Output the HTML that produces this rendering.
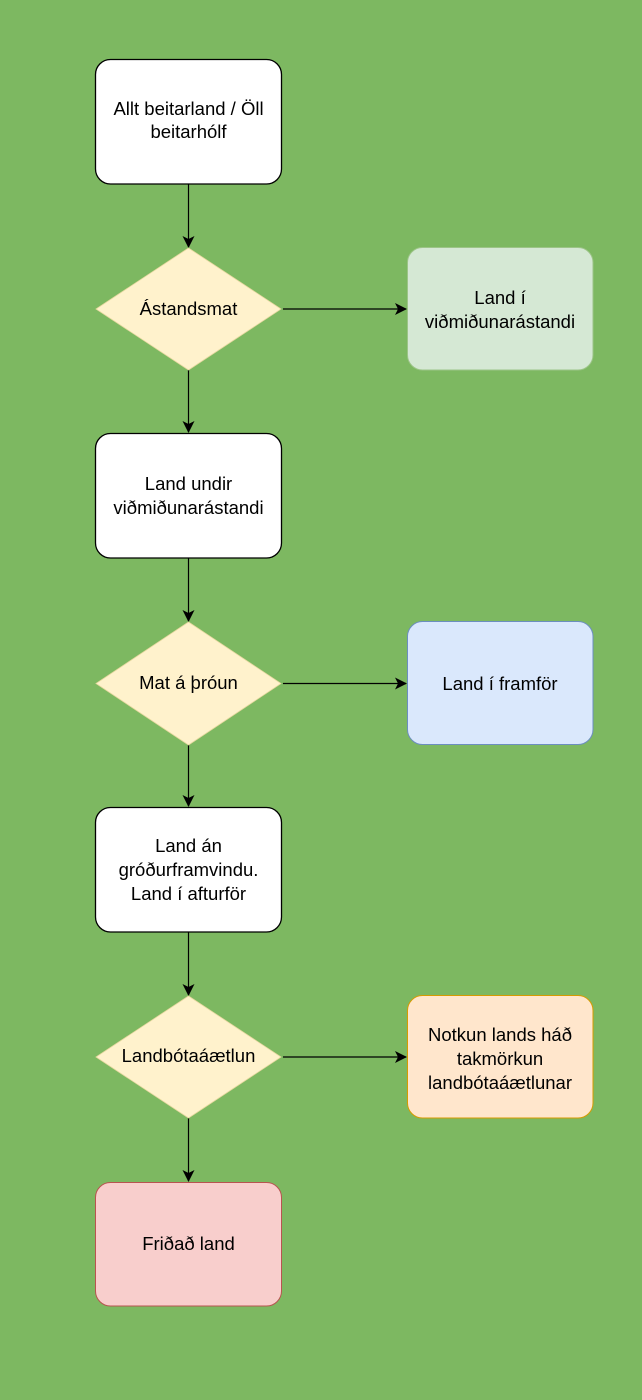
<!DOCTYPE html>
<html>
<head>
<meta charset="utf-8">
<style>
html,body{margin:0;padding:0;background:#7db861;}
svg{display:block;}
text{font-family:"Liberation Sans",Arial,sans-serif;font-size:18.5px;fill:#000;}
</style>
</head>
<body>
<svg width="642" height="1400" viewBox="0 0 642 1400" xmlns="http://www.w3.org/2000/svg">
<defs>
<marker id="ah" markerWidth="12" markerHeight="12" refX="11" refY="6" orient="auto" markerUnits="userSpaceOnUse">
<path d="M0,0 L12,6 L0,12 L3,6 Z" fill="#000"/>
</marker>
</defs>
<rect x="0" y="0" width="642" height="1400" fill="#7db861"/>

<!-- vertical connectors -->
<g stroke="#000" stroke-width="1.2" fill="none">
<line x1="188.5" y1="184" x2="188.5" y2="247" marker-end="url(#ah)"/>
<line x1="188.5" y1="370" x2="188.5" y2="432" marker-end="url(#ah)"/>
<line x1="188.5" y1="558" x2="188.5" y2="621" marker-end="url(#ah)"/>
<line x1="188.5" y1="745" x2="188.5" y2="806" marker-end="url(#ah)"/>
<line x1="188.5" y1="932" x2="188.5" y2="995" marker-end="url(#ah)"/>
<line x1="188.5" y1="1118" x2="188.5" y2="1181" marker-end="url(#ah)"/>
<!-- horizontal connectors -->
<line x1="283" y1="309" x2="406" y2="309" marker-end="url(#ah)"/>
<line x1="283" y1="683.5" x2="406" y2="683.5" marker-end="url(#ah)"/>
<line x1="283" y1="1057" x2="406" y2="1057" marker-end="url(#ah)"/>
</g>

<!-- main column boxes -->
<rect x="95.5" y="59.5" width="186" height="124.5" rx="15" fill="#fff" stroke="#000" stroke-width="1.3"/>
<text text-anchor="middle"><tspan x="188.5" y="115">Allt beitarland / Öll</tspan><tspan x="188.5" y="138">beitarhólf</tspan></text>

<polygon points="188.5,248 281,309 188.5,370 96,309" fill="#fff2cc" stroke="#e8d9a0" stroke-width="0.8"/>
<text x="188.5" y="315" text-anchor="middle">Ástandsmat</text>

<rect x="95.5" y="433.5" width="186" height="124.5" rx="15" fill="#fff" stroke="#000" stroke-width="1.3"/>
<text text-anchor="middle"><tspan x="188.5" y="490">Land undir</tspan><tspan x="188.5" y="514">viðmiðunarástandi</tspan></text>

<polygon points="188.5,622 281,683.5 188.5,745 96,683.5" fill="#fff2cc" stroke="#e8d9a0" stroke-width="0.8"/>
<text x="188.5" y="689" text-anchor="middle">Mat á þróun</text>

<rect x="95.5" y="807.5" width="186" height="124.5" rx="15" fill="#fff" stroke="#000" stroke-width="1.3"/>
<text text-anchor="middle"><tspan x="188.5" y="852">Land án</tspan><tspan x="188.5" y="876">gróðurframvindu.</tspan><tspan x="188.5" y="900">Land í afturför</tspan></text>

<polygon points="188.5,996 281,1057 188.5,1118 96,1057" fill="#fff2cc" stroke="#e8d9a0" stroke-width="0.8"/>
<text x="188.5" y="1062" text-anchor="middle">Landbótaáætlun</text>

<rect x="95.5" y="1182.5" width="186" height="123.5" rx="15" fill="#f8cecc" stroke="#b85450" stroke-width="1"/>
<text x="188.5" y="1250" text-anchor="middle">Friðað land</text>

<!-- right column boxes -->
<rect x="407.5" y="247.5" width="185.5" height="122.5" rx="15" fill="#d5e8d4" stroke="#9cc487" stroke-width="1"/>
<text text-anchor="middle"><tspan x="500" y="304">Land í</tspan><tspan x="500" y="328">viðmiðunarástandi</tspan></text>

<rect x="407.5" y="621.5" width="185.5" height="123" rx="15" fill="#dae8fc" stroke="#6c8ebf" stroke-width="1"/>
<text x="500" y="690" text-anchor="middle">Land í framför</text>

<rect x="407.5" y="995.5" width="185.5" height="122.5" rx="15" fill="#ffe6cc" stroke="#d79b00" stroke-width="1"/>
<text text-anchor="middle"><tspan x="500" y="1041">Notkun lands háð</tspan><tspan x="500" y="1065">takmörkun</tspan><tspan x="500" y="1089">landbótaáætlunar</tspan></text>
</svg>
</body>
</html>
